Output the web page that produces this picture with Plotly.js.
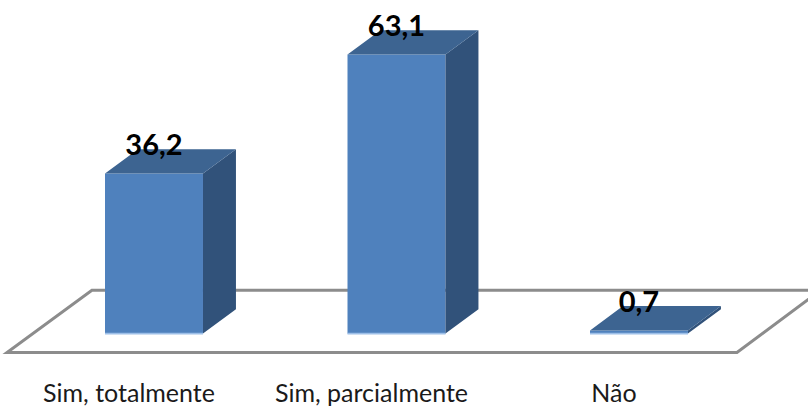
<!DOCTYPE html>
<html>
<head>
<meta charset="utf-8">
<script src="https://cdn.plot.ly/plotly-3.0.1.min.js"></script>
<style>html,body{margin:0;padding:0;background:#fff}</style>
</head>
<body>
<div id="chart" style="width:808px;height:407px"></div>
<script>
const categories = ["Sim, totalmente", "Sim, parcialmente", "Não"];
const values = [36.2, 63.1, 0.7];
const valueLabels = ["36,2", "63,1", "0,7"];
const positions = [0, 1, 2];

const barWidth = 0.404;
const depthX = 0.136;
const depthY = 5.5;
const tickShift = -0.103;
const labelLift = 0.35;
const floorX = [-0.606, 2.404, 2.75, -0.256];
const floorY = [-4.3, -4.3, 9.8, 9.8];

const frontColor = "#4f81bd";
const topColor = "#3d6491";
const sideColor = "#31527a";
const stripColor = "#9dbfe8";

const sideX = [], sideY = [], topX = [], topY = [];
positions.forEach((p, i) => {
  const v = values[i], l = p - barWidth / 2, r = p + barWidth / 2;
  sideX.push(r, r + depthX, r + depthX, r, r, null);
  sideY.push(0, depthY, v + depthY, v, 0, null);
  topX.push(l, l + depthX, r + depthX, r, l, null);
  topY.push(v, v + depthY, v + depthY, v, v, null);
});

const traces = [
  {type: "bar", x: positions, y: values, width: barWidth,
   marker: {color: frontColor, line: {width: 0}}, hoverinfo: "skip"},
  {type: "bar", x: positions, y: positions.map(() => 0.35), base: positions.map(() => -0.2), width: barWidth,
   marker: {color: stripColor, line: {width: 0}}, hoverinfo: "skip"},
  {type: "scatter", mode: "lines", x: sideX, y: sideY, fill: "toself", fillcolor: sideColor,
   line: {width: 0, color: sideColor}, hoverinfo: "skip"},
  {type: "scatter", mode: "lines", x: topX, y: topY, fill: "toself", fillcolor: topColor,
   line: {width: 0, color: topColor}, hoverinfo: "skip"},
  {type: "scatter", mode: "text", x: positions, y: values.map(v => v + depthY + labelLift),
   text: valueLabels, textposition: "middle center",
   textfont: {family: "Lato", size: 29, color: "#000", weight: 700}, hoverinfo: "skip"}
];

const floorPath = floorX.map((x, i) => (i ? "L" : "M") + x + "," + floorY[i]).join(" ") + " Z";

const layout = {
  width: 808, height: 407,
  margin: {l: 0, r: 0, t: 0, b: 45, pad: 0},
  paper_bgcolor: "#fff", plot_bgcolor: "#fff",
  showlegend: false, barmode: "overlay",
  font: {family: "Lato", color: "#1a1a1a"},
  xaxis: {range: [-0.635, 2.697], tickmode: "array",
    tickvals: positions.map(p => p + tickShift), ticktext: categories,
    ticks: "outside", ticklen: 9, tickcolor: "rgba(0,0,0,0)", tickwidth: 1,
    tickangle: 0, tickfont: {family: "Lato", size: 25, color: "#1a1a1a"},
    showgrid: false, zeroline: false, showline: false, automargin: false},
  yaxis: {range: [-6.448, 75.45], visible: false, showgrid: false, zeroline: false, automargin: false},
  shapes: [{type: "path", path: floorPath, xref: "x", yref: "y", layer: "below",
    fillcolor: "#fff", line: {color: "#8c8c8c", width: 3}}]
};

Plotly.newPlot("chart", traces, layout, {displayModeBar: false, staticPlot: true});
</script>
</body>
</html>
